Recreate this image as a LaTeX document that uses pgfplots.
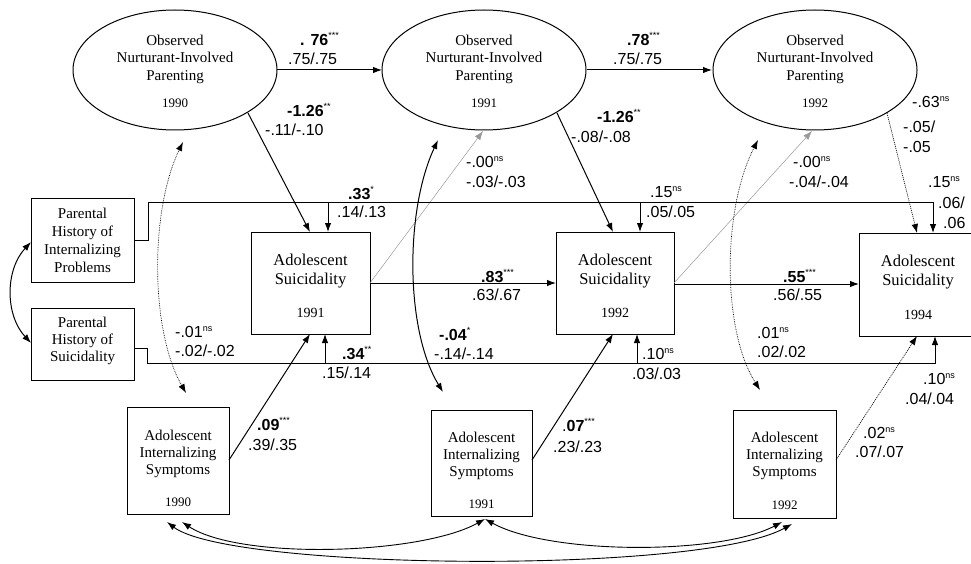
\documentclass[border=0pt]{standalone}
\usepackage{pgfplots}
\pgfplotsset{compat=1.18}
\usepackage{fontspec}
\setmainfont{Liberation Serif}
\newfontfamily\arial{Liberation Sans}
\usetikzlibrary{arrows.meta}
\newcommand\sg[1]{\textsuperscript{\fontsize{9}{9}\selectfont #1}}
\tikzset{
  arr/.style={-{Latex[length=9pt,width=6.5pt]}},
  darr/.style={{Latex[length=9pt,width=6.5pt]}-{Latex[length=9pt,width=6.5pt]}},
  dotl/.style={densely dotted, line width=0.7pt},
  thinl/.style={gray!80, line width=0.5pt},
  bx/.style={draw, line width=1pt},
  tx/.style={align=center, inner sep=0pt, font=\fontsize{15}{17.5}\selectfont},
  txs/.style={align=center, inner sep=0pt, font=\fontsize{16.5}{19}\selectfont},
  yr/.style={inner sep=0pt, font=\fontsize{13}{13}\selectfont},
  cf/.style={anchor=west, inner sep=0pt, font=\arial\fontsize{16}{19}\selectfont},
}
\begin{document}
\begin{tikzpicture}
\begin{axis}[name=ax, width=971pt, height=564pt, scale only axis,
  xmin=0, xmax=971, ymin=0, ymax=564, y dir=reverse,
  axis lines=none, clip=false,
  every axis plot/.append style={black, line width=1pt, mark=none},
]
% ---------- latent ellipses ----------
\draw[line width=1pt] (axis cs:175,70) ellipse [x radius=102, y radius=60];
\draw[line width=1pt] (axis cs:484,70) ellipse [x radius=102, y radius=60];
\draw[line width=1pt] (axis cs:815,70) ellipse [x radius=102, y radius=60];
\node[tx] at (axis cs:175,59) {Observed\\Nurturant-Involved\\Parenting};
\node[yr] at (axis cs:175,103) {1990};
\node[tx] at (axis cs:484,59) {Observed\\Nurturant-Involved\\Parenting};
\node[yr] at (axis cs:484,103) {1991};
\node[tx] at (axis cs:815,59) {Observed\\Nurturant-Involved\\Parenting};
\node[yr] at (axis cs:815,103) {1992};
% ---------- parental boxes ----------
\draw[bx] (axis cs:31,198) rectangle (axis cs:134,282);
\node[tx, font=\fontsize{15}{18}\selectfont] at (axis cs:82.5,240) {Parental\\History of\\Internalizing\\Problems};
\draw[bx] (axis cs:31,308) rectangle (axis cs:134,380);
\node[tx, font=\fontsize{15}{17}\selectfont] at (axis cs:82.5,341) {Parental\\History of\\Suicidality};
% ---------- suicidality boxes ----------
\draw[bx] (axis cs:251,232) rectangle (axis cs:370,334);
\node[txs] at (axis cs:310.5,271) {Adolescent\\Suicidality};
\node[yr, font=\fontsize{14}{14}\selectfont] at (axis cs:310.5,313) {1991};
\draw[bx] (axis cs:556,232) rectangle (axis cs:674,334);
\node[txs] at (axis cs:615,271) {Adolescent\\Suicidality};
\node[yr, font=\fontsize{14}{14}\selectfont] at (axis cs:615,313) {1992};
\draw[bx] (axis cs:975,233) -- (axis cs:859,233) -- (axis cs:859,336) -- (axis cs:975,336);
\node[txs] at (axis cs:918,272) {Adolescent\\Suicidality};
\node[yr, font=\fontsize{14}{14}\selectfont] at (axis cs:918,315) {1994};
% ---------- internalizing symptoms boxes ----------
\draw[bx] (axis cs:127,407) rectangle (axis cs:229,514);
\node[tx, font=\fontsize{15}{17}\selectfont] at (axis cs:178,454) {Adolescent\\Internalizing\\Symptoms};
\node[yr] at (axis cs:178,502) {1990};
\draw[bx] (axis cs:431,410) rectangle (axis cs:532,516);
\node[tx, font=\fontsize{15}{17}\selectfont] at (axis cs:481.5,456) {Adolescent\\Internalizing\\Symptoms};
\node[yr] at (axis cs:481.5,504) {1991};
\draw[bx] (axis cs:733,410) rectangle (axis cs:836,518);
\node[tx, font=\fontsize{15}{17}\selectfont] at (axis cs:784.5,456) {Adolescent\\Internalizing\\Symptoms};
\node[yr] at (axis cs:784.5,505) {1992};
% ---------- paths ----------
\addplot[arr] coordinates {(277,70) (382,70)};
\addplot[arr] coordinates {(587,70) (712,70)};
\addplot[arr] coordinates {(248,113) (310,232)};
\addplot[arr] coordinates {(557,113) (613,232)};
\addplot[arr, dotl] coordinates {(887,113) (917,233)};
\addplot[arr, thinl] coordinates {(370,283) (483,131)};
\addplot[arr, thinl] coordinates {(674,283) (812,131)};
\addplot[arr] coordinates {(370,283) (556,283)};
\addplot[arr] coordinates {(674,284) (859,284)};
\addplot[arr] coordinates {(134,240) (148,240) (148,202) (933,202) (933,233)};
\addplot[arr] coordinates {(328,202) (328,232)};
\addplot[arr] coordinates {(640,202) (640,232)};
\addplot[arr] coordinates {(134,348) (147,348) (147,363) (935,363) (935,336)};
\addplot[arr] coordinates {(325,363) (325,334)};
\addplot[arr] coordinates {(637,363) (637,334)};
\addplot[arr] coordinates {(229,460) (310,334)};
\addplot[arr] coordinates {(532,460) (613,334)};
\addplot[arr, dotl] coordinates {(836,460) (917,336)};
% ---------- correlations ----------
\draw[darr, line width=1pt] (axis cs:31,242) .. controls (axis cs:5,270) and (axis cs:5,315) .. (axis cs:31,343);
\draw[darr, dotl] (axis cs:183,142) .. controls (axis cs:150,210) and (axis cs:150,330) .. (axis cs:186,393);
\draw[darr, line width=1pt] (axis cs:438,140) .. controls (axis cs:405,210) and (axis cs:405,330) .. (axis cs:443,392);
\draw[darr, dotl] (axis cs:758,140) .. controls (axis cs:722,210) and (axis cs:722,330) .. (axis cs:760,390);
\draw[darr, line width=0.9pt] (axis cs:182,522) .. controls (axis cs:240,560) and (axis cs:420,555) .. (axis cs:485,519);
\draw[darr, line width=0.9pt] (axis cs:485,519) .. controls (axis cs:550,555) and (axis cs:720,555) .. (axis cs:782,522);
\draw[darr, line width=0.9pt] (axis cs:167,522) .. controls (axis cs:230,570) and (axis cs:700,575) .. (axis cs:792,524);
% ---------- coefficients ----------
\node[cf] at (axis cs:300,39) {\textbf{. 76}\sg{***}};
\node[cf] at (axis cs:288,59) {.75/.75};
\node[cf] at (axis cs:627,39) {\textbf{.78}\sg{***}};
\node[cf] at (axis cs:613,59) {.75/.75};
\node[cf] at (axis cs:287,110) {\textbf{-1.26}\sg{**}};
\node[cf] at (axis cs:265,130) {-.11/-.10};
\node[cf] at (axis cs:597,116) {\textbf{-1.26}\sg{**}};
\node[cf] at (axis cs:571,137) {-.08/-.08};
\node[cf] at (axis cs:466,162) {-.00\sg{ns}};
\node[cf] at (axis cs:466,182) {-.03/-.03};
\node[cf] at (axis cs:912,102) {-.63\sg{ns}};
\node[cf] at (axis cs:903,127) {-.05/};
\node[cf] at (axis cs:903,147) {-.05};
\node[cf] at (axis cs:793,162) {-.00\sg{ns}};
\node[cf] at (axis cs:789,182) {-.04/-.04};
\node[cf] at (axis cs:928,182) {.15\sg{ns}};
\node[cf] at (axis cs:938,203) {.06/};
\node[cf] at (axis cs:943,223) {.06};
\node[cf] at (axis cs:348,193) {\textbf{.33}\sg{*}};
\node[cf] at (axis cs:337,212) {.14/.13};
\node[cf] at (axis cs:650,192) {.15\sg{ns}};
\node[cf] at (axis cs:646,212) {.05/.05};
\node[cf] at (axis cs:481,276) {\textbf{.83}\sg{***}};
\node[cf] at (axis cs:472,295) {.63/.67};
\node[cf] at (axis cs:783,276) {\textbf{.55}\sg{***}};
\node[cf] at (axis cs:773,295) {.56/.55};
\node[cf] at (axis cs:439,334) {\textbf{-.04}\sg{*}};
\node[cf] at (axis cs:434,354) {-.14/-.14};
\node[cf] at (axis cs:342,353) {\textbf{.34}\sg{**}};
\node[cf] at (axis cs:322,373) {.15/.14};
\node[cf] at (axis cs:642,354) {.10\sg{ns}};
\node[cf] at (axis cs:632,374) {.03/.03};
\node[cf] at (axis cs:757,333) {.01\sg{ns}};
\node[cf] at (axis cs:757,352) {.02/.02};
\node[cf] at (axis cs:175,332) {-.01\sg{ns}};
\node[cf] at (axis cs:175,351) {-.02/-.02};
\node[cf] at (axis cs:923,379) {.10\sg{ns}};
\node[cf] at (axis cs:905,399) {.04/.04};
\node[cf] at (axis cs:863,433) {.02\sg{ns}};
\node[cf] at (axis cs:855,452) {.07/.07};
\node[cf] at (axis cs:257,424) {\textbf{.09}\sg{***}};
\node[cf] at (axis cs:248,445) {.39/.35};
\node[cf] at (axis cs:562,425) {.\textbf{07}\sg{***}};
\node[cf] at (axis cs:553,447) {.23/.23};
\end{axis}
\pgfresetboundingbox
\path[use as bounding box] (ax.south west) rectangle (ax.north east);
\end{tikzpicture}
\end{document}
